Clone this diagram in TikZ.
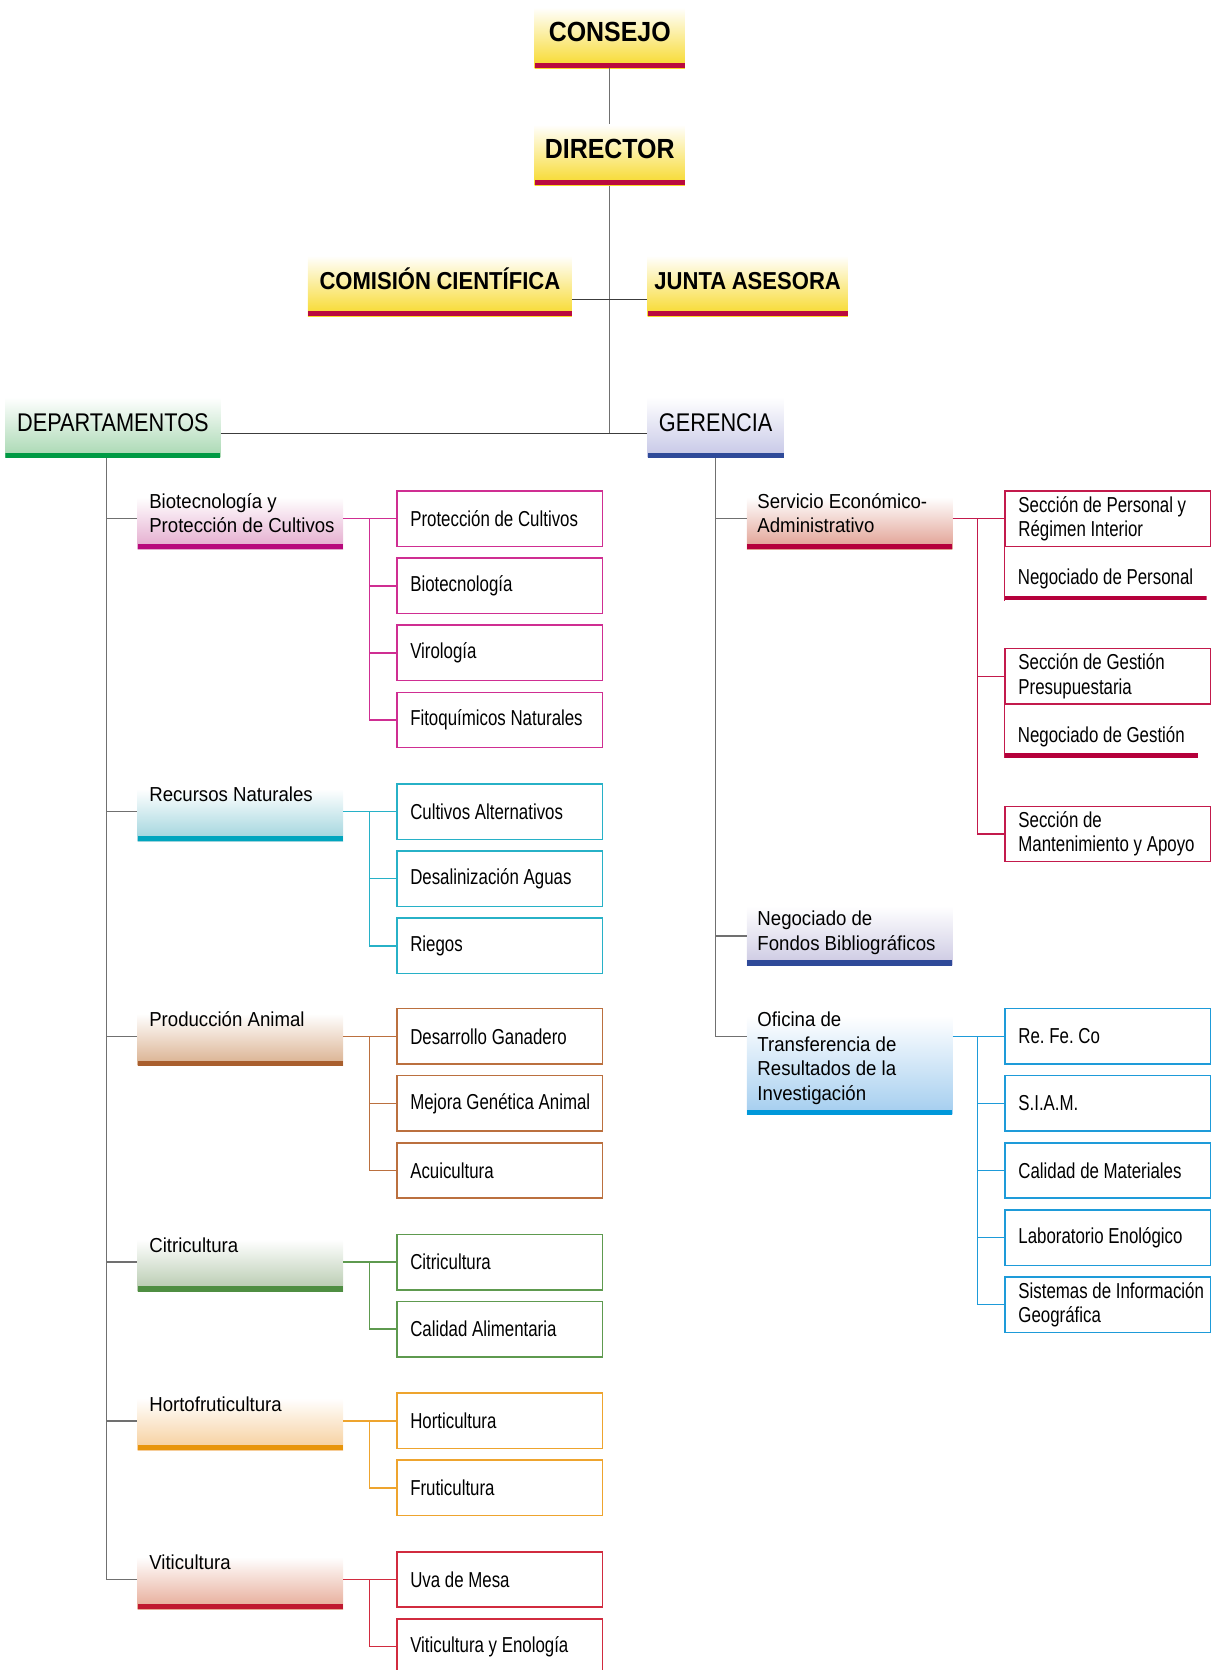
\documentclass[tikz,border=0pt]{standalone}
\usepackage{fontspec}
\setmainfont{Liberation Sans}
\newfontfamily\topfont[FakeStretch=0.9, WordSpace=0.9]{Liberation Sans}
\newfontfamily\areafont[FakeStretch=0.85, WordSpace=0.85]{Liberation Sans}
\newfontfamily\subfont[FakeStretch=0.92]{Liberation Sans}
\newfontfamily\boxfont[FakeStretch=0.78]{Liberation Sans}
\hyphenpenalty=10000
\frenchspacing
\usetikzlibrary{positioning, calc}
\definecolor{gold}{HTML}{F7D928}
\definecolor{crimson}{HTML}{BA0A3E}
\definecolor{depbar}{HTML}{009A44}
\definecolor{depfade}{HTML}{A6D7B0}
\definecolor{gerbar}{HTML}{2F4A99}
\definecolor{gerfade}{HTML}{C5C6E6}
\definecolor{biobar}{HTML}{B8087C}
\definecolor{biofade}{HTML}{E3A8CC}
\definecolor{biocol}{HTML}{CF2E92}
\definecolor{rnbar}{HTML}{00A5BE}
\definecolor{rnfade}{HTML}{9DD3DC}
\definecolor{rncol}{HTML}{27B1C7}
\definecolor{pabar}{HTML}{A95F2E}
\definecolor{pafade}{HTML}{D9AF8D}
\definecolor{pacol}{HTML}{BB703F}
\definecolor{cibar}{HTML}{4F8E42}
\definecolor{cifade}{HTML}{B4C8AC}
\definecolor{cicol}{HTML}{5E9A4F}
\definecolor{hobar}{HTML}{E8950B}
\definecolor{hofade}{HTML}{F6CD99}
\definecolor{hocol}{HTML}{EEA42E}
\definecolor{vtbar}{HTML}{C0182F}
\definecolor{vtfade}{HTML}{E6A995}
\definecolor{vtcol}{HTML}{D12B3F}
\definecolor{srvbar}{HTML}{B5003B}
\definecolor{srvfade}{HTML}{E09D8F}
\definecolor{srvcol}{HTML}{C31A4C}
\definecolor{fbbar}{HTML}{2F4A99}
\definecolor{fbfade}{HTML}{CBC8E2}
\definecolor{ofbar}{HTML}{0098DA}
\definecolor{offade}{HTML}{A3CDEF}
\definecolor{ofcol}{HTML}{1E9BD9}
\definecolor{trunkgray}{HTML}{707070}
\definecolor{hlinecol}{HTML}{3C3C3C}
\tikzset{%
  hdr/.style 2 args = {rectangle, inner sep=0pt, top color=white, bottom color=#1,
    path picture={\fill[#2] ([yshift=5pt]path picture bounding box.south west)
      rectangle (path picture bounding box.south east);}},
  mainhead/.style = {hdr={gold}{crimson}, minimum height=57pt, text height=19pt,
    text depth=12pt, font=\topfont\bfseries\fontsize{26}{30}\selectfont},
  sidehead/.style = {mainhead, font=\topfont\bfseries\fontsize{23}{27}\selectfont},
  areahead/.style 2 args = {hdr={#1}{#2}, minimum height=57pt, text height=19pt,
    text depth=12pt, font=\areafont\fontsize{24}{28}\selectfont},
  subhead/.style 2 args = {hdr={#1}{#2}, anchor=south west, minimum width=193pt,
    minimum height=49pt},
  subtext/.style = {inner sep=0pt, anchor=base west, align=flush left, text width=190pt,
    font=\subfont\fontsize{19}{23}\selectfont},
  item/.style = {draw=#1, line width=1.4pt, rectangle, anchor=west, minimum width=193pt,
    minimum height=52pt, text width=168pt, inner xsep=12.5pt, align=flush left,
    font=\boxfont\fontsize{20.3}{23}\selectfont},
  itemopen/.style = {rectangle, anchor=south west, inner xsep=12.5pt, inner ysep=0pt,
    minimum width=179pt, minimum height=40pt, font=\boxfont\fontsize{20.3}{23}\selectfont,
    path picture={\fill[#1] ([yshift=4.5pt]path picture bounding box.south west)
      rectangle (path picture bounding box.south east);}},
  trunk/.style = {draw=trunkgray, line width=1.4pt},
  hline/.style = {draw=hlinecol, line width=1.2pt},
  link/.style = {draw=#1, line width=1.4pt}
}

\begin{document}
\begin{tikzpicture}[x=1pt, y=-1pt]
\useasboundingbox (0,0) rectangle (1137,1568);
%top blocks
\draw
  (572.5,35.5) node [mainhead, minimum width=141pt] (cons) {CONSEJO}
  (572.5,145.5) node [mainhead, minimum width=141pt] (dir) {DIRECTOR}
  (413,268.5) node [sidehead, minimum width=248pt] (com) {COMISIÓN CIENTÍFICA}
  (702,268.5) node [sidehead, minimum width=188pt] (jun) {JUNTA ASESORA}
  (106,401.5) node [areahead={depfade}{depbar}, minimum width=202pt] (dep) {DEPARTAMENTOS}
  (672,401.5) node [areahead={gerfade}{gerbar}, minimum width=128pt] (ger) {GERENCIA};
\coordinate (cj) at (572.5,281);
\coordinate (jn) at (572.5,407);
\coordinate (ltr) at (100,430);
%departamentos
\draw
  (129,516) node [subhead={biofade}{biobar}] (bp) {}
  (129,790) node [subhead={rnfade}{rnbar}] (rn) {}
  (129,1001) node [subhead={pafade}{pabar}] (pa) {}
  (129,1213) node [subhead={cifade}{cibar}] (ci) {}
  (129,1362) node [subhead={hofade}{hobar}] (ho) {}
  (129,1511) node [subhead={vtfade}{vtbar}] (vt) {};
\draw
  (140,477) node [subtext] (bpt) {Biotecnología y\\Protección de Cultivos}
  (140,753) node [subtext] (rnt) {Recursos Naturales}
  (140,964) node [subtext] (pat) {Producción Animal}
  (140,1176) node [subtext] (cit) {Citricultura}
  (140,1325) node [subtext] (hot) {Hortofruticultura}
  (140,1474) node [subtext] (vtt) {Viticultura};
\draw
  (372,487) node [item=biocol] (pcu) {Protección de Cultivos}
  (372,550) node [item=biocol] (bio) {Biotecnología}
  (372,613) node [item=biocol] (vir) {Virología}
  (372,676) node [item=biocol] (fit) {Fitoquímicos Naturales}
  (372,762) node [item=rncol] (cua) {Cultivos Alternativos}
  (372,825) node [item=rncol] (des) {Desalinización Aguas}
  (372,888) node [item=rncol] (rie) {Riegos}
  (372,973) node [item=pacol] (dga) {Desarrollo Ganadero}
  (372,1036) node [item=pacol] (mga) {\mbox{Mejora Genética Animal}}
  (372,1099) node [item=pacol] (acu) {Acuicultura}
  (372,1185) node [item=cicol] (ctr) {Citricultura}
  (372,1248) node [item=cicol] (cal) {Calidad Alimentaria}
  (372,1334) node [item=hocol] (hor) {Horticultura}
  (372,1397) node [item=hocol] (fru) {Fruticultura}
  (372,1483) node [item=vtcol] (uva) {Uva de Mesa}
  (372,1546) node [item=vtcol] (vye) {Viticultura y Enología};
%gerencia
\draw
  (701,516) node [subhead={srvfade}{srvbar}] (ser) {}
  (701,907) node [subhead={fbfade}{fbbar}, minimum height=56pt] (nfb) {}
  (701,1047) node [subhead={offade}{ofbar}, minimum height=93pt] (ofi) {};
\draw
  (711,477) node [subtext] (sert) {Servicio Económico-\\Administrativo}
  (711,869) node [subtext] (nfbt) {Negociado de\\Fondos Bibliográficos}
  (711,964) node [subtext] (ofit) {Oficina de\\Transferencia de\\Resultados de la\\Investigación};
\draw
  (943,487) node [item=srvcol] (spr) {\mbox{Sección de Personal y}\\Régimen Interior}
  (943,564) node [itemopen=srvbar] (npe) {Negociado de Personal}
  (943,635) node [item=srvcol] (sgp) {Sección de Gestión\\Presupuestaria}
  (943,712) node [itemopen=srvbar] (nge) {Negociado de Gestión}
  (943,783) node [item=srvcol] (smt) {Sección de\\\mbox{Mantenimiento y Apoyo}}
  (943,973) node [item=ofcol] (rfc) {Re. Fe. Co}
  (943,1036) node [item=ofcol] (sia) {S.I.A.M.}
  (943,1099) node [item=ofcol] (cma) {Calidad de Materiales}
  (943,1162) node [item=ofcol] (lab) {Laboratorio Enológico}
  (943,1225) node [item=ofcol] (sig) {\mbox{Sistemas de Información}\\Geográfica};
%lines
\draw[trunk] (cons) -- (dir);
\draw[trunk] (dir) -- (jn);
\draw[hline] (com.east |- cj) -- (jun.west |- cj);
\draw[hline] (dep.east |- jn) -- (ger.west |- jn);
%left tree
\draw[trunk] (ltr) -- (ltr |- uva) -- (vt.west |- uva);
\draw[trunk] (ltr |- pcu) -- (bp.west |- pcu);
\draw[trunk] (ltr |- cua) -- (rn.west |- cua);
\draw[trunk] (ltr |- dga) -- (pa.west |- dga);
\draw[trunk] (ltr |- ctr) -- (ci.west |- ctr);
\draw[trunk] (ltr |- hor) -- (ho.west |- hor);
\draw[link=biocol] (bp.east |- pcu) -- (pcu);
\draw[link=biocol] ([xshift=-25pt]pcu.west) |- (bio);
\draw[link=biocol] ([xshift=-25pt]pcu.west) |- (vir);
\draw[link=biocol] ([xshift=-25pt]pcu.west) |- (fit);
\draw[link=rncol] (rn.east |- cua) -- (cua);
\draw[link=rncol] ([xshift=-25pt]cua.west) |- (des);
\draw[link=rncol] ([xshift=-25pt]cua.west) |- (rie);
\draw[link=pacol] (pa.east |- dga) -- (dga);
\draw[link=pacol] ([xshift=-25pt]dga.west) |- (mga);
\draw[link=pacol] ([xshift=-25pt]dga.west) |- (acu);
\draw[link=cicol] (ci.east |- ctr) -- (ctr);
\draw[link=cicol] ([xshift=-25pt]ctr.west) |- (cal);
\draw[link=hocol] (ho.east |- hor) -- (hor);
\draw[link=hocol] ([xshift=-25pt]hor.west) |- (fru);
\draw[link=vtcol] (vt.east |- uva) -- (uva);
\draw[link=vtcol] ([xshift=-25pt]uva.west) |- (vye);
%right tree
\draw[trunk] (ger) |- (ofi.west |- rfc);
\draw[trunk] (ger |- spr) -- (ser.west |- spr);
\draw[trunk] (ger |- nfb) -- (nfb);
\draw[link=srvcol] (ser.east |- spr) -- (spr);
\draw[link=srvcol] ([xshift=-25pt]spr.west) |- (sgp);
\draw[link=srvcol] ([xshift=-25pt]spr.west) |- (smt);
\draw[link=srvcol] (spr.south west) -- (npe.south west);
\draw[link=srvcol] (sgp.south west) -- (nge.south west);
\draw[link=ofcol] (ofi.east |- rfc) -- (rfc);
\draw[link=ofcol] ([xshift=-25pt]rfc.west) |- (sia);
\draw[link=ofcol] ([xshift=-25pt]rfc.west) |- (cma);
\draw[link=ofcol] ([xshift=-25pt]rfc.west) |- (lab);
\draw[link=ofcol] ([xshift=-25pt]rfc.west) |- (sig);
\end{tikzpicture}
\end{document}
